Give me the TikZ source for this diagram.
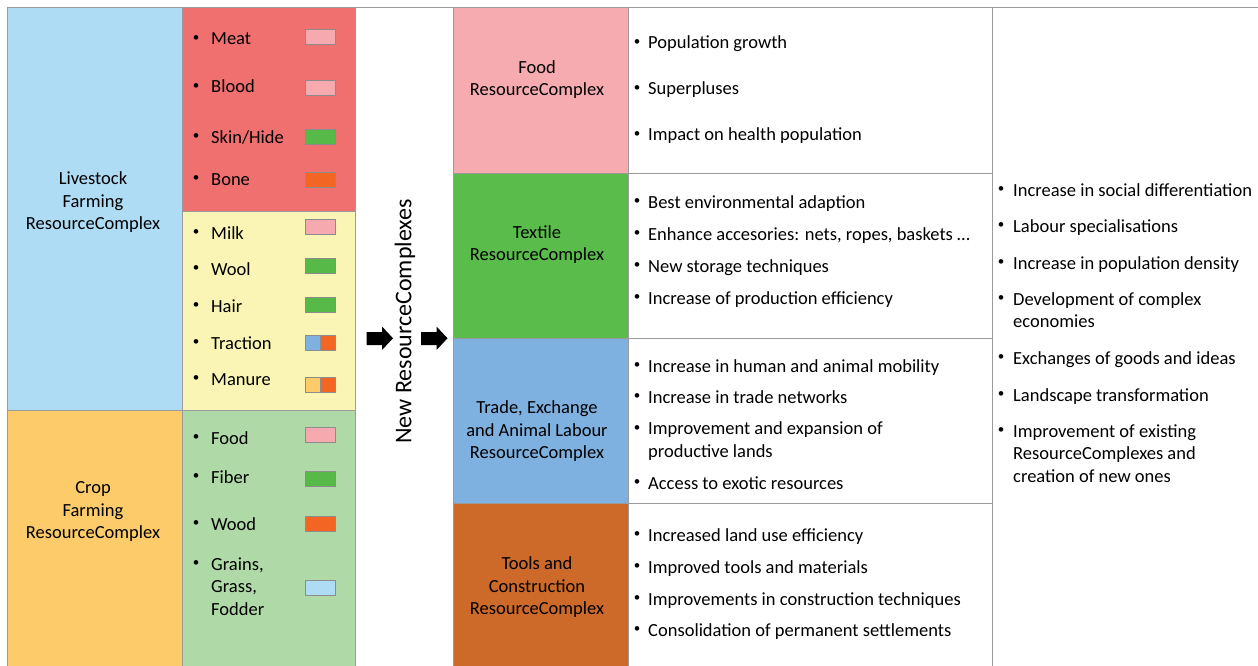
\documentclass[tikz,border=0pt]{standalone}
\usepackage{fontspec}
\setmainfont{Carlito}
\definecolor{cLive}{RGB}{174,220,245}
\definecolor{cCrop}{RGB}{253,203,106}
\definecolor{cRed}{RGB}{240,112,112}
\definecolor{cYel}{RGB}{250,245,180}
\definecolor{cGrn}{RGB}{176,217,168}
\definecolor{cFood}{RGB}{245,171,176}
\definecolor{cTex}{RGB}{89,188,75}
\definecolor{cTrade}{RGB}{126,176,224}
\definecolor{cTool}{RGB}{205,106,42}
\definecolor{sPink}{RGB}{246,170,176}
\definecolor{sGreen}{RGB}{86,185,72}
\definecolor{sOrange}{RGB}{242,101,34}
\definecolor{sBlue}{RGB}{126,176,224}
\definecolor{sLight}{RGB}{174,220,245}
\definecolor{sYel}{RGB}{253,203,106}
\definecolor{lineGray}{RGB}{155,155,155}
\newcommand\mkcell[6]{\node[cell,fill=#2,minimum width={#5-#3},minimum height={#6-#4}] (#1) at (#3,#4) {};}
% name, bullet x, text x, y (cap centre of first line), text
\newcommand\itm[5]{\node[bul] (#1b) at (#2,#4) {•};\node[itx] (#1) at (#3,#4+6) {#5};}
% name, bullet x, text x, y first line, y last line, text
\newcommand\itmm[6]{\node[bul] (#1b) at (#2,#4) {•};\node[itx] (#1) at (#3,#5+6) {#6};}
\newcommand\swt[4]{\node[swatch,fill=#4] (#1) at (#2,#3) {};}
\newcommand\blockarr[2]{\fill[black] (#2,332) -- (#2+15.5,332) -- (#2+15.5,326.5) -- (#2+26.5,338.3) -- (#2+15.5,350) -- (#2+15.5,345) -- (#2,345) -- cycle; \coordinate (#1) at (#2+13,338);}
\begin{document}
\begin{tikzpicture}[x=1pt,y=-1pt,font=\fontsize{18.5}{22.5}\selectfont,
  cell/.style={draw=lineGray,line width=0.8pt,anchor=north west,inner sep=0pt,outer sep=0pt},
  bul/.style={anchor=center,inner sep=0pt,font=\fontsize{13}{13}\selectfont},
  itx/.style={anchor=base west,inner sep=0pt,align=left},
  ctr/.style={align=center,inner sep=0pt},
  swatch/.style={draw=black!45,line width=0.6pt,minimum width=30pt,minimum height=15pt,inner sep=0pt,anchor=north west}]
\useasboundingbox (0,0) rectangle (1258,666);
\clip (0,0) rectangle (1258,666);
\fill[white] (0,0) rectangle (1258,666);
% columns
\mkcell{live}{cLive}{7}{7}{182}{410}
\mkcell{crop}{cCrop}{7}{410}{182}{672}
\mkcell{red}{cRed}{182}{7}{355}{211}
\mkcell{yel}{cYel}{182}{211}{355}{410}
\mkcell{grn}{cGrn}{182}{410}{355}{672}
\mkcell{newcol}{white}{355}{7}{453}{672}
\mkcell{food}{cFood}{453}{7}{628}{173}
\mkcell{tex}{cTex}{453}{173}{628}{338}
\mkcell{trade}{cTrade}{453}{338}{628}{503}
\mkcell{tool}{cTool}{453}{503}{628}{672}
\mkcell{wfood}{white}{628}{7}{992}{173}
\mkcell{wtex}{white}{628}{173}{992}{338}
\mkcell{wtrade}{white}{628}{338}{992}{503}
\mkcell{wtool}{white}{628}{503}{992}{672}
\mkcell{right}{white}{992}{7}{1264}{672}
% left labels
\node[ctr] (liveT) at (93,202.5) {Livestock\\Farming\\ResourceComplex};
\node[ctr] (cropT) at (93,511.5) {Crop\\Farming\\ResourceComplex};
% red items
\itm{meat}{196}{211}{39}{Meat}
\itm{blood}{196}{211}{87}{Blood}
\itm{skin}{196}{211}{137}{Skin/Hide}
\itm{bone}{196}{211}{179}{Bone}
\swt{sMeat}{305}{29}{sPink}
\swt{sBlood}{305}{80}{sPink}
\swt{sSkin}{305}{129}{sGreen}
\swt{sBone}{305}{172}{sOrange}
% yellow items
\itm{milk}{196}{211}{233}{Milk}
\itm{wool}{196}{211}{269}{Wool}
\itm{hair}{196}{211}{306}{Hair}
\itm{trac}{196}{211}{343}{Traction}
\itm{manu}{196}{211}{379}{Manure}
\swt{sMilk}{305}{219}{sPink}
\swt{sWool}{305}{258}{sGreen}
\swt{sHair}{305}{297}{sGreen}
\node[swatch,fill=sBlue,minimum width=15pt] (sTracA) at (305,335) {};
\node[swatch,fill=sOrange,minimum width=15pt] (sTracB) at (320,335) {};
\node[swatch,fill=sYel,minimum width=15pt] (sManA) at (305,377) {};
\node[swatch,fill=sOrange,minimum width=15pt] (sManB) at (320,377) {};
% green items
\itm{cfood}{196}{211}{438}{Food}
\itm{fiber}{196}{211}{477}{Fiber}
\itm{wood}{196}{211}{524}{Wood}
\itmm{grain}{196}{211}{564}{609}{Grains,\\Grass,\\Fodder}
\swt{sCfood}{305}{427}{sPink}
\swt{sFiber}{305}{471}{sGreen}
\swt{sWood}{305}{516}{sOrange}
\swt{sGrain}{305}{580}{sLight}
% arrows and rotated text
\blockarr{arr1}{366.5}
\blockarr{arr2}{421}
\node[rotate=90,inner sep=0pt,font=\fontsize{24}{28}\selectfont] (newT) at (405,321.5) {New ResourceComplexes};
% complex labels
\node[ctr] (foodT) at (537,79.5) {Food\\ResourceComplex};
\node[ctr] (texT) at (537,244.5) {Textile\\ResourceComplex};
\node[ctr] (tradeT) at (537,431.5) {Trade, Exchange\\and Animal Labour\\ResourceComplex};
\node[ctr] (toolT) at (537,587.5) {Tools and\\Construction\\ResourceComplex};
% food consequences
\itm{f1}{637}{648}{43}{Population growth}
\itm{f2}{637}{648}{89}{Superpluses}
\itm{f3}{637}{648}{135}{Impact on health population}
% textile
\itm{t1}{637}{648}{202}{Best environmental adaption}
\itm{t2}{637}{648}{234}{Enhance accesories: nets, ropes, baskets …}
\itm{t3}{637}{648}{266}{New storage techniques}
\itm{t4}{637}{648}{298}{Increase of production efficiency}
% trade
\itm{r1}{637}{648}{366}{Increase in human and animal mobility}
\itm{r2}{637}{648}{397}{Increase in trade networks}
\itmm{r3}{637}{648}{429}{451}{Improvement and expansion of\\productive lands}
\itm{r4}{637}{648}{483}{Access to exotic resources}
% tools
\itm{o1}{637}{648}{535}{Increased land use efficiency}
\itm{o2}{637}{648}{567}{Improved tools and materials}
\itm{o3}{637}{648}{599}{Improvements in construction techniques}
\itm{o4}{637}{648}{630}{Consolidation of permanent settlements}
% right column
\itm{g1}{1001}{1013}{190}{Increase in social differentiation}
\itm{g2}{1001}{1013}{226}{Labour specialisations}
\itm{g3}{1001}{1013}{263}{Increase in population density}
\itmm{g4}{1001}{1013}{299}{321.5}{Development of complex\\economies}
\itm{g5}{1001}{1013}{358}{Exchanges of goods and ideas}
\itm{g6}{1001}{1013}{395}{Landscape transformation}
\itmm{g7}{1001}{1013}{431}{476}{Improvement of existing\\ResourceComplexes and\\creation of new ones}
\end{tikzpicture}
\end{document}
